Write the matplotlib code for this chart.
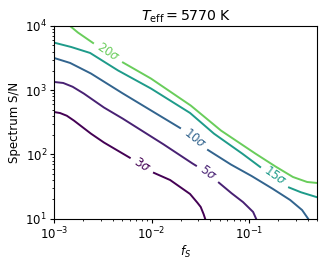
import matplotlib
matplotlib.use("Agg")
import matplotlib.pyplot as plt
import numpy as np
from matplotlib.colors import Normalize

plt.rcParams["font.size"] = 8.5
plt.rcParams["xtick.major.size"] = 2.6
plt.rcParams["ytick.major.size"] = 2.6
plt.rcParams["xtick.minor.size"] = 1.5
plt.rcParams["ytick.minor.size"] = 1.5
plt.rcParams["xtick.major.pad"] = 2.5
plt.rcParams["ytick.major.pad"] = 2.5

# detection-significance contours
levels = [3, 5, 10, 15, 20]

fs_3sig = [1.0e-3, 1.15e-3, 1.35e-3, 1.57e-3, 2.34e-3, 3.18e-3, 4.75e-3, 8.0e-3, 1.01e-2,
           1.55e-2, 2.1e-2, 2.48e-2, 2.86e-2, 3.19e-2, 3.39e-2, 3.54e-2]
sn_3sig = [457, 441, 400, 343, 215, 156, 109, 68.4, 53.2, 39.9, 28.9, 24.2, 18.8,
           15.2, 12.2, 10]

fs_5sig = [1.0e-3, 1.24e-3, 1.55e-3, 1.98e-3, 3.18e-3, 4.75e-3, 1.22e-2, 2.48e-2, 3.79e-2,
           4.81e-2, 6.38e-2, 8.67e-2, 0.11, 0.118]
sn_5sig = [1343, 1295, 1130, 904, 547, 383, 156, 76.2, 51.3, 37.2, 25.9, 18.1, 12.7, 10]

fs_10sig = [1.0e-3, 1.46e-3, 2.34e-3, 4.43e-3, 9.66e-3, 1.96e-2, 2.79e-2, 3.79e-2,
            6.38e-2, 0.102, 0.164, 0.264, 0.35, 0.403]
sn_10sig = [3175, 2655, 1853, 1007, 492, 258, 180, 117, 70.8, 47.8, 31, 19.5, 13.6, 10]

fs_15sig = [1.0e-3, 1.46e-3, 2.34e-3, 4.43e-3, 9.66e-3, 2.48e-2, 4.28e-2, 8.09e-2,
            0.130, 0.185, 0.251, 0.333, 0.5]
sn_15sig = [5500, 4760, 3800, 2065, 1082, 442, 215, 109, 63.7, 46.1, 31, 26, 21.5]

fs_20sig = [1.40e-3, 1.72e-3, 2.51e-3, 3.58e-3, 4.98e-3, 9.66e-3, 2.48e-2, 5.05e-2,
            0.102, 0.176, 0.282, 0.394, 0.5]
sn_20sig = [10500, 8070, 5430, 3940, 2750, 1549, 589, 240, 117, 68.4, 44.5, 37.2, 35.9]

# where the inline labels sit
label_fs = [8.0e-3, 3.79e-2, 2.79e-2, 0.185, 3.58e-3]
label_sn = [68.4, 51.3, 180, 46.1, 3940]

curves = [(fs_3sig, sn_3sig), (fs_5sig, sn_5sig), (fs_10sig, sn_10sig),
          (fs_15sig, sn_15sig), (fs_20sig, sn_20sig)]

fig = plt.figure(figsize=(3.26, 2.65), dpi=100)
ax = fig.add_axes([0.166, 0.175, 0.807, 0.727])
ax.set_xscale("log")
ax.set_yscale("log")
ax.set_xlim(1e-3, 0.5)
ax.set_ylim(10, 1e4)

cmap = plt.get_cmap("viridis")
norm = Normalize(3, 25)
renderer = fig.canvas.get_renderer()


def densify(xs, ys):
    pts = ax.transData.transform(np.column_stack([xs, ys]))
    dense = []
    for p0, p1 in zip(pts[:-1], pts[1:]):
        n = max(int(np.hypot(*(p1 - p0))), 2)
        dense.append(np.linspace(p0, p1, n, endpoint=False))
    dense.append(pts[-1:])
    return np.vstack(dense)


for lev, (xs, ys), lx, ly in zip(levels, curves, label_fs, label_sn):
    color = cmap(norm(lev))
    txt = ax.text(lx, ly, rf"{lev}$\sigma$", color=color, ha="center", va="center",
                  rotation_mode="anchor", zorder=3)
    half = txt.get_window_extent(renderer).width / 2 + 5

    dense = densify(xs, ys)
    c = ax.transData.transform((lx, ly))
    dist = np.hypot(*(dense - c).T)
    inside = np.where(dist < half)[0]
    i0, i1 = max(inside[0] - 1, 0), min(inside[-1] + 1, len(dense) - 1)
    dx, dy = dense[i1] - dense[i0]
    txt.set_rotation(np.degrees(np.arctan2(dy, dx)))

    dense[inside] = np.nan
    line = ax.transData.inverted().transform(dense)
    ax.plot(line[:, 0], line[:, 1], color=color, linewidth=1.4)

ax.set_xlabel("$f_S$", labelpad=1.5)
ax.set_ylabel("Spectrum S/N", labelpad=3)
ax.set_title(r"$T_{\rm eff} = 5770$ K", pad=4)

fig.savefig("out.png", dpi=100)
